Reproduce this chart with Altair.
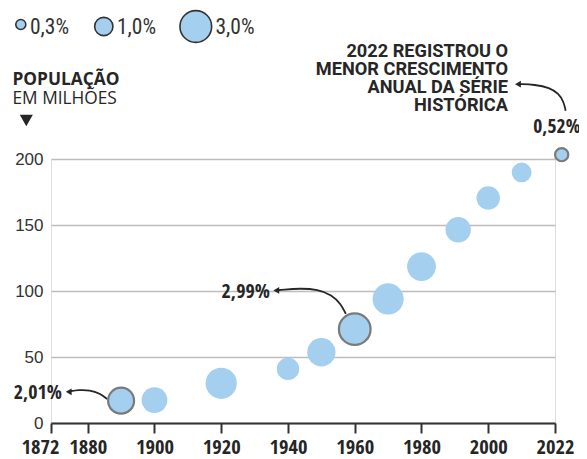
import altair as alt
import pandas as pd

# ---- data ----
years = [1890, 1900, 1920, 1940, 1950, 1960, 1970, 1980, 1991, 2000, 2010, 2022]
population = [16.9, 17.4, 30.1, 41.0, 53.6, 71.1, 94.0, 118.5, 146.4, 170.4, 189.8, 203.3]
growth = [2.01, 1.98, 2.91, 1.49, 2.39, 2.99, 2.89, 2.48, 1.93, 1.64, 1.17, 0.52]
highlight = [True, False, False, False, False, True, False, False, False, False, False, True]

legend_values = [0.3, 1.0, 3.0]
legend_labels = ["0,3%", "1,0%", "3,0%"]

x_tick_values = [1869, 1880, 1900, 1920, 1940, 1960, 1980, 2000, 2020]
y_tick_values = [0, 50, 100, 150, 200]

note_lines = ["2022 REGISTROU O", "MENOR CRESCIMENTO", "ANUAL DA SÉRIE", "HISTÓRICA"]

df = pd.DataFrame({"ano": years, "pop": population, "cresc": growth, "dest": highlight})

COND = "Open Sans Condensed, Roboto Condensed, sans-serif"
RCOND = "Roboto Condensed, sans-serif"
SANS = "Liberation Sans, Arial, sans-serif"
OPEN = "Open Sans, Noto Sans, sans-serif"
ROBOTO = "Roboto, sans-serif"
FILL = "#a4cfee"
DARK = "#262626"

xs = alt.Scale(domain=[1869, 2020], nice=False, zero=False)
ys = alt.Scale(domain=[0, 200], nice=False)
ss = alt.Scale(domain=[0, 3], range=[0, 1005])

x_axis = alt.Axis(
    values=x_tick_values,
    labelExpr="datum.value == 1869 ? '1872' : datum.value == 2020 ? '2022' : datum.label",
    format="d", grid=False, title=None,
    domainColor="#333", domainWidth=2, tickColor="#333", tickWidth=2, tickSize=10,
    labelFont=COND, labelFontSize=20.5, labelFontWeight="bold", labelColor=DARK,
    labelPadding=4, labelFlush=False, labelOverlap=False,
    labelOffset={"condition": {"test": "datum.value == 1869", "value": -11}, "value": 0},
)
y_axis = alt.Axis(
    values=y_tick_values, grid=True, gridColor="#bdbdbd", gridWidth=1.6,
    domain=False, ticks=False, title=None,
    labelFont=SANS, labelFontSize=17, labelColor="#333", labelPadding=8,
)

bubbles = alt.Chart(df).mark_circle(opacity=1).encode(
    x=alt.X("ano:Q", scale=xs, axis=x_axis),
    y=alt.Y("pop:Q", scale=ys, axis=y_axis),
    size=alt.Size("cresc:Q", scale=ss, legend=None),
    color=alt.value(FILL),
    stroke=alt.condition("datum.dest", alt.value("#7a7a7a"), alt.value("transparent")),
    strokeWidth=alt.condition("datum.dest", alt.value(2.2), alt.value(0)),
)

# ---- size legend (drawn through the same size scale) ----
legend_layers = []
legend_circle_x = [-30.2, 52.8, 144.8]
legend_circle_y = [-134.5, -132.5, -132.5]
legend_text_x = [-21, 66, 164.5]
for v, lab, cx, cy, tx in zip(legend_values, legend_labels, legend_circle_x, legend_circle_y, legend_text_x):
    ld = pd.DataFrame({"cresc": [v], "lab": [lab]})
    legend_layers.append(
        alt.Chart(ld).mark_circle(opacity=1, stroke="#333", strokeWidth=1.6, fill=FILL).encode(
            x=alt.value(cx), y=alt.value(cy), size=alt.Size("cresc:Q", scale=ss, legend=None)
        )
    )
    legend_layers.append(
        alt.Chart(ld).mark_text(align="left", baseline="middle", font=RCOND, fontSize=21.5,
                                color="#333").encode(
            x=alt.value(tx), y=alt.value(-131.5), text="lab:N"
        )
    )

# ---- titles / annotations ----
title_df = pd.DataFrame({"t": [0]})
pop_title = alt.Chart(title_df).mark_text(
    align="left", baseline="alphabetic", font=OPEN, fontSize=17.3, fontWeight="bold", color=DARK
).encode(x=alt.value(-38.5), y=alt.value(-74), text=alt.value("POPULAÇÃO"))
pop_sub = alt.Chart(title_df).mark_text(
    align="left", baseline="alphabetic", font=OPEN, fontSize=17.3, color=DARK
).encode(x=alt.value(-38.5), y=alt.value(-54.7), text=alt.value("EM MILHÕES"))
tri = alt.Chart(title_df).mark_point(
    shape="triangle-down", filled=True, color=DARK, opacity=1, size=170
).encode(x=alt.value(-24.7), y=alt.value(-38.5))

note_layers = []
note_baselines = [-102, -84, -66, -48]
for line, yb in zip(note_lines, note_baselines):
    note_layers.append(
        alt.Chart(title_df).mark_text(
            align="right", baseline="alphabetic", font=ROBOTO, fontSize=18.2, fontWeight="bold",
            color=DARK
        ).encode(x=alt.value(457), y=alt.value(yb), text=alt.value(line))
    )

lab_df = pd.DataFrame({
    "ano": [1872.3, 1934.6],
    "pop": [22.75, 99.0],
    "lab": ["2,01%", "2,99%"],
})
labels_right = alt.Chart(lab_df).mark_text(
    align="right", baseline="middle", font=COND, fontSize=20, fontWeight="bold", color=DARK
).encode(x=alt.X("ano:Q", scale=xs), y=alt.Y("pop:Q", scale=ys), text="lab:N")
lab52 = alt.Chart(pd.DataFrame({"ano": [2013.5], "pop": [224.5], "lab": ["0,52%"]})).mark_text(
    align="left", baseline="middle", font=COND, fontSize=19.5, fontWeight="bold", color=DARK
).encode(x=alt.X("ano:Q", scale=xs), y=alt.Y("pop:Q", scale=ys), text="lab:N")

# curved arrows (annotation geometry)
arrows = pd.DataFrame({
    "id": ["a"] * 5 + ["b"] * 7 + ["c"] * 6,
    "ordem": list(range(5)) + list(range(7)) + list(range(6)),
    "ano": [1885.77, 1883.67, 1880.68, 1877.08, 1874.69,
            1957.32, 1955.83, 1953.13, 1948.94, 1943.55, 1938.46, 1936.66,
            2023.19, 2022.59, 2021.10, 2018.40, 2013.91, 2009.42],
    "pop": [18.2, 22.37, 25.03, 25.03, 23.89,
            82.67, 90.25, 97.08, 101.25, 102.01, 101.02, 100.49,
            236.6, 243.5, 249.5, 254.1, 256.4, 256.7],
})
arrow_lines = alt.Chart(arrows).mark_line(
    interpolate="basis", color=DARK, strokeWidth=1.8
).encode(
    x=alt.X("ano:Q", scale=xs), y=alt.Y("pop:Q", scale=ys),
    detail="id:N", order="ordem:Q",
)
heads = pd.DataFrame({"ano": [1874.3, 1936.5, 2008.9], "pop": [23.6, 100.4, 256.7]})
arrow_heads = alt.Chart(heads).mark_point(
    shape="triangle-left", filled=True, color=DARK, opacity=1, size=45
).encode(x=alt.X("ano:Q", scale=xs), y=alt.Y("pop:Q", scale=ys))

chart = alt.layer(
    bubbles, arrow_lines, arrow_heads, labels_right, lab52, pop_title, pop_sub, tri,
    *note_layers, *legend_layers,
).properties(
    width=504, height=264,
    autosize=alt.AutoSizeParams(type="none"),
    padding={"left": 43, "top": 151, "right": 24, "bottom": 36},
).configure_view(stroke=None).configure(background="white")

chart.save("out.html", embed_options={"renderer": "svg", "actions": False})
